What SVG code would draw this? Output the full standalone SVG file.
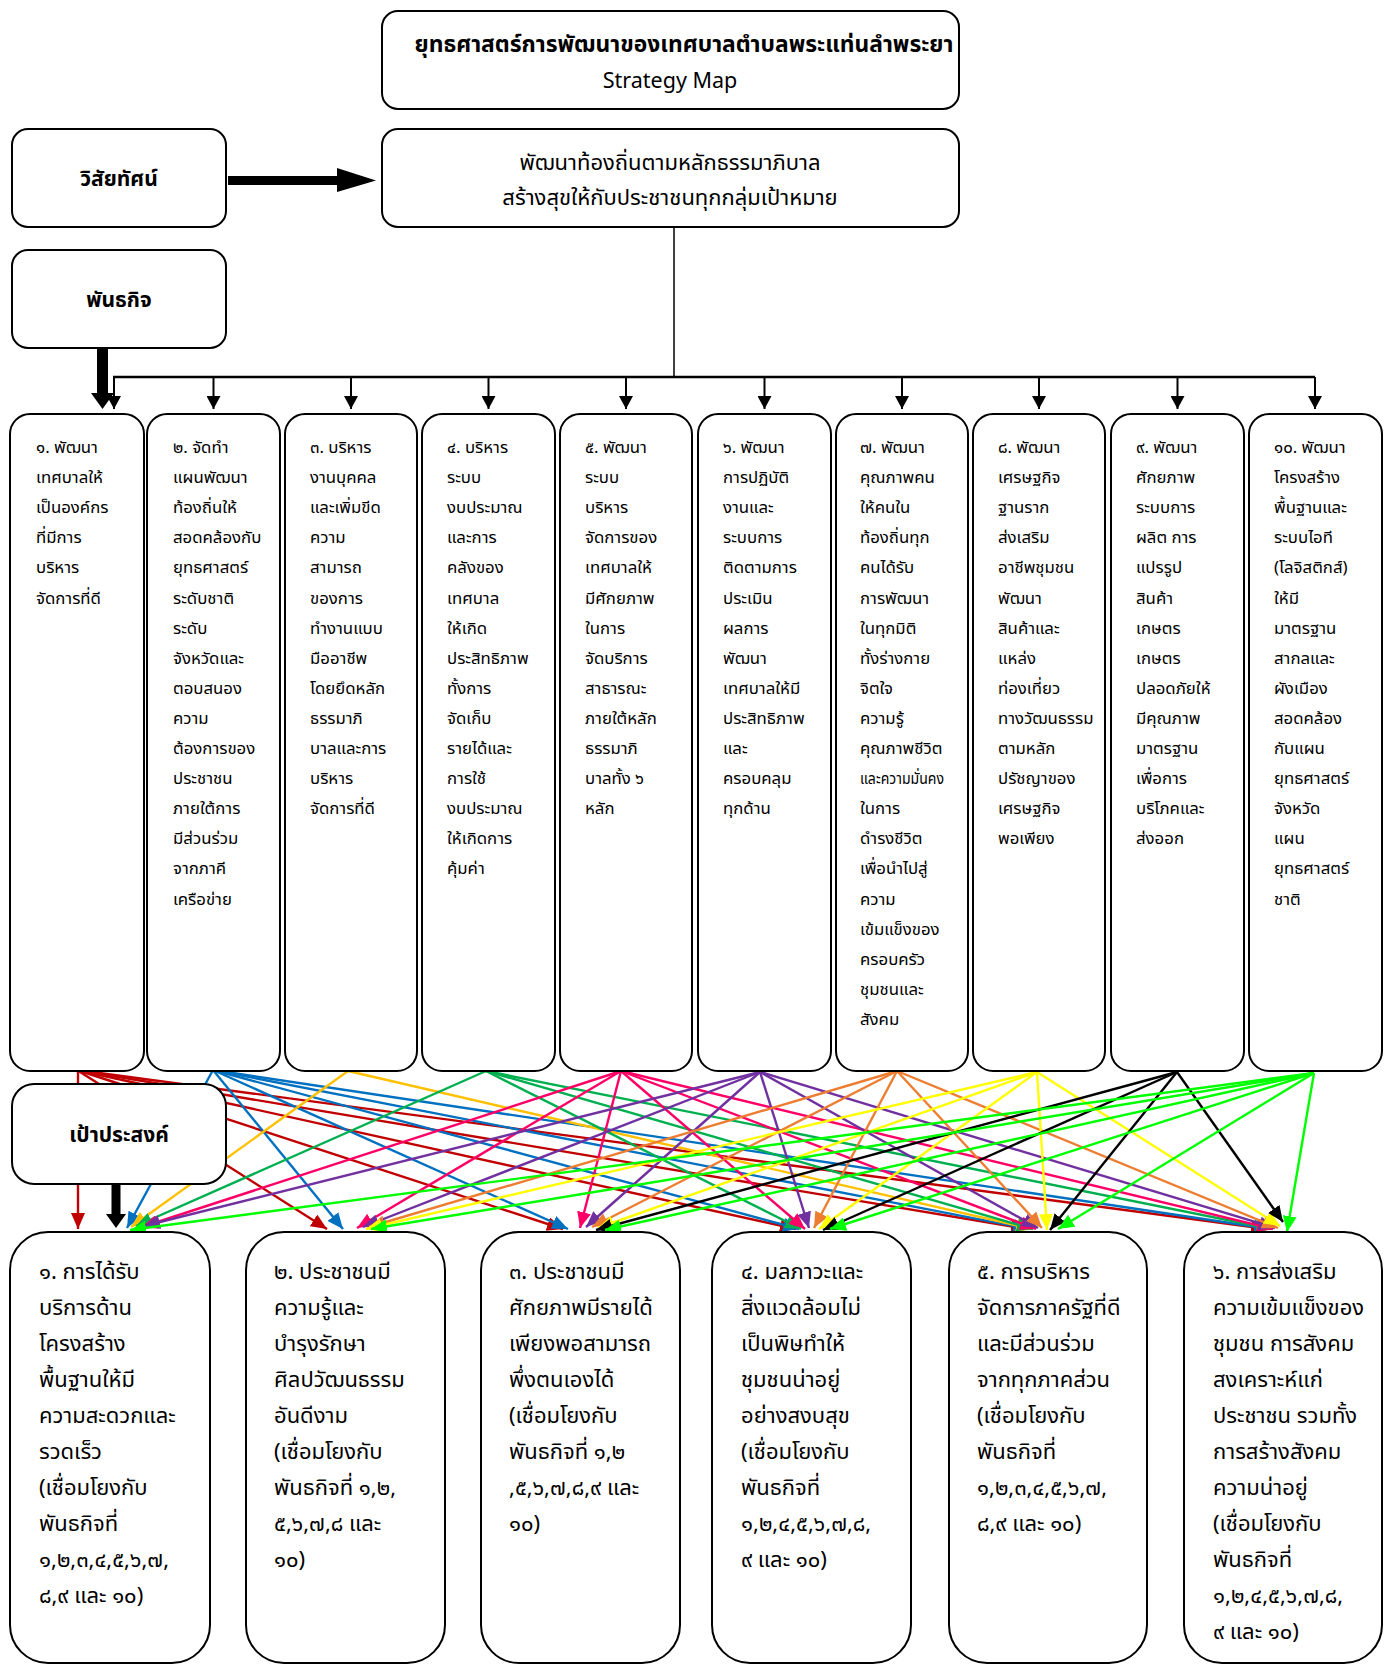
<svg xmlns="http://www.w3.org/2000/svg" width="1384" height="1666" viewBox="0 0 1384 1666">
<style>
.box{fill:#fff;stroke:#000;stroke-width:2}
.t{font-family:"Noto Sans Thai","Noto Sans","DejaVu Sans",sans-serif;fill:#000}
.m{font-size:16.8px}
.g{font-size:22px}
.lbl{font-size:21px;font-weight:bold;text-anchor:middle}
.c line{stroke-width:2.4;fill:none}
</style>
<defs>
<marker id="ak" markerUnits="userSpaceOnUse" markerWidth="13" markerHeight="14" viewBox="0 0 13 14" refX="13" refY="7" orient="auto"><path d="M0,0L13,7L0,14z" fill="#000"/></marker>
<marker id="a1" markerUnits="userSpaceOnUse" markerWidth="16" markerHeight="14" viewBox="0 0 16 14" refX="16" refY="7" orient="auto"><path d="M0,0L16,7L0,14z" fill="#C00000"/></marker>
<marker id="a2" markerUnits="userSpaceOnUse" markerWidth="16" markerHeight="14" viewBox="0 0 16 14" refX="16" refY="7" orient="auto"><path d="M0,0L16,7L0,14z" fill="#0070C0"/></marker>
<marker id="a3" markerUnits="userSpaceOnUse" markerWidth="16" markerHeight="14" viewBox="0 0 16 14" refX="16" refY="7" orient="auto"><path d="M0,0L16,7L0,14z" fill="#FFC000"/></marker>
<marker id="a4" markerUnits="userSpaceOnUse" markerWidth="16" markerHeight="14" viewBox="0 0 16 14" refX="16" refY="7" orient="auto"><path d="M0,0L16,7L0,14z" fill="#00B050"/></marker>
<marker id="a5" markerUnits="userSpaceOnUse" markerWidth="16" markerHeight="14" viewBox="0 0 16 14" refX="16" refY="7" orient="auto"><path d="M0,0L16,7L0,14z" fill="#FF0066"/></marker>
<marker id="a6" markerUnits="userSpaceOnUse" markerWidth="16" markerHeight="14" viewBox="0 0 16 14" refX="16" refY="7" orient="auto"><path d="M0,0L16,7L0,14z" fill="#7030A0"/></marker>
<marker id="a7" markerUnits="userSpaceOnUse" markerWidth="16" markerHeight="14" viewBox="0 0 16 14" refX="16" refY="7" orient="auto"><path d="M0,0L16,7L0,14z" fill="#ED7D31"/></marker>
<marker id="a8" markerUnits="userSpaceOnUse" markerWidth="16" markerHeight="14" viewBox="0 0 16 14" refX="16" refY="7" orient="auto"><path d="M0,0L16,7L0,14z" fill="#FFFF00"/></marker>
<marker id="a9" markerUnits="userSpaceOnUse" markerWidth="16" markerHeight="14" viewBox="0 0 16 14" refX="16" refY="7" orient="auto"><path d="M0,0L16,7L0,14z" fill="#000000"/></marker>
<marker id="a10" markerUnits="userSpaceOnUse" markerWidth="16" markerHeight="14" viewBox="0 0 16 14" refX="16" refY="7" orient="auto"><path d="M0,0L16,7L0,14z" fill="#00FF00"/></marker>
</defs>
<rect width="1384" height="1666" fill="#fff"/>

<g id="connectors">
<polygon points="228,176 337,176 337,168 376,180.5 337,192 337,185 228,185" fill="#000"/>
<line x1="674" y1="227" x2="674" y2="377" stroke="#000" stroke-width="1.5"/>
<line x1="113" y1="377" x2="1315" y2="377" stroke="#000" stroke-width="2.5"/>
<g stroke="#000" stroke-width="2" marker-end="url(#ak)">
<line x1="114" y1="377" x2="114" y2="409"/>
<line x1="213.5" y1="377" x2="213.5" y2="409"/>
<line x1="351" y1="377" x2="351" y2="409"/>
<line x1="488.5" y1="377" x2="488.5" y2="409"/>
<line x1="626" y1="377" x2="626" y2="409"/>
<line x1="764.5" y1="377" x2="764.5" y2="409"/>
<line x1="902" y1="377" x2="902" y2="409"/>
<line x1="1039" y1="377" x2="1039" y2="409"/>
<line x1="1177.5" y1="377" x2="1177.5" y2="409"/>
<line x1="1315" y1="377" x2="1315" y2="409"/>
</g>
<polygon points="97,348 108,348 108,393 114,393 102.5,409 91,393 97,393" fill="#000"/>

<g class="c">
<g stroke="#C00000" marker-end="url(#a1)">
<line x1="78" y1="1070" x2="78" y2="1229"/>
<line x1="77" y1="1070" x2="327" y2="1229"/>
<line x1="77" y1="1070" x2="563" y2="1229"/>
<line x1="77" y1="1070" x2="796" y2="1229"/>
<line x1="77" y1="1070" x2="1027" y2="1229"/>
<line x1="77" y1="1070" x2="1267" y2="1229"/>
</g>
<g stroke="#0070C0" marker-end="url(#a2)">
<line x1="213" y1="1070" x2="127" y2="1228"/>
<line x1="213" y1="1070" x2="343" y2="1229"/>
<line x1="213" y1="1070" x2="568" y2="1229"/>
<line x1="213" y1="1070" x2="799" y2="1229"/>
<line x1="213" y1="1070" x2="1029" y2="1229"/>
<line x1="213" y1="1070" x2="1270" y2="1229"/>
</g>
<g stroke="#FFC000" marker-end="url(#a3)">
<line x1="348" y1="1071" x2="131" y2="1227"/>
<line x1="348" y1="1071" x2="1032" y2="1229"/>
</g>
<g stroke="#00B050" marker-end="url(#a4)">
<line x1="486" y1="1071" x2="136" y2="1226"/>
<line x1="486" y1="1071" x2="801" y2="1229"/>
<line x1="486" y1="1071" x2="1033" y2="1229"/>
<line x1="486" y1="1071" x2="1272" y2="1229"/>
</g>
<g stroke="#FF0066" marker-end="url(#a5)">
<line x1="621" y1="1071" x2="142" y2="1227"/>
<line x1="621" y1="1071" x2="357" y2="1228"/>
<line x1="621" y1="1071" x2="580" y2="1228"/>
<line x1="621" y1="1071" x2="805" y2="1229"/>
<line x1="621" y1="1071" x2="1036" y2="1229"/>
<line x1="621" y1="1071" x2="1273" y2="1229"/>
</g>
<g stroke="#7030A0" marker-end="url(#a6)">
<line x1="760" y1="1072" x2="144" y2="1226"/>
<line x1="760" y1="1072" x2="363" y2="1227"/>
<line x1="760" y1="1072" x2="586" y2="1227"/>
<line x1="760" y1="1072" x2="809" y2="1228"/>
<line x1="760" y1="1072" x2="1038" y2="1228"/>
<line x1="760" y1="1072" x2="1275" y2="1228"/>
</g>
<g stroke="#ED7D31" marker-end="url(#a7)">
<line x1="897" y1="1071" x2="369" y2="1227"/>
<line x1="897" y1="1071" x2="592" y2="1227"/>
<line x1="897" y1="1071" x2="814" y2="1228"/>
<line x1="897" y1="1071" x2="1042" y2="1228"/>
<line x1="897" y1="1071" x2="1278" y2="1228"/>
</g>
<g stroke="#FFFF00" marker-end="url(#a8)">
<line x1="1037" y1="1072" x2="366" y2="1229"/>
<line x1="1037" y1="1072" x2="598" y2="1228"/>
<line x1="1037" y1="1072" x2="819" y2="1229"/>
<line x1="1037" y1="1072" x2="1047" y2="1230"/>
<line x1="1037" y1="1072" x2="1280" y2="1226"/>
</g>
<g stroke="#000000" marker-end="url(#a9)">
<line x1="1177" y1="1072" x2="596" y2="1230"/>
<line x1="1177" y1="1072" x2="823" y2="1230"/>
<line x1="1177" y1="1072" x2="1050" y2="1230"/>
<line x1="1177" y1="1072" x2="1283" y2="1222"/>
</g>
<g stroke="#00FF00" marker-end="url(#a10)">
<line x1="1314" y1="1073" x2="130" y2="1230"/>
<line x1="1314" y1="1073" x2="371" y2="1229"/>
<line x1="1314" y1="1073" x2="605" y2="1230"/>
<line x1="1314" y1="1073" x2="830" y2="1229"/>
<line x1="1314" y1="1073" x2="1058" y2="1229"/>
<line x1="1314" y1="1073" x2="1287" y2="1232"/>
</g>
</g>
<polygon points="111.5,1184 120.5,1184 120.5,1214 126,1214 116,1228 106,1214 111.5,1214" fill="#000"/>
</g>

<g id="title">
<rect class="box" x="382" y="11" width="577" height="98" rx="16"/>
<text class="t" x="684" y="52" font-size="22.8" font-weight="bold" text-anchor="middle">ยุทธศาสตร์การพัฒนาของเทศบาลตำบลพระแท่นลำพระยา</text>
<text class="t" x="670" y="88" font-size="21.5" text-anchor="middle">Strategy Map</text>
</g>
<g id="vision-label">
<rect class="box" x="12" y="129" width="214" height="98" rx="16"/>
<text class="t lbl" x="119" y="186">วิสัยทัศน์</text>
</g>
<g id="vision">
<rect class="box" x="382" y="129" width="577" height="98" rx="16"/>
<text class="t" font-size="22" text-anchor="middle"><tspan x="670" y="170">พัฒนาท้องถิ่นตามหลักธรรมาภิบาล</tspan><tspan x="670" y="205">สร้างสุขให้กับประชาชนทุกกลุ่มเป้าหมาย</tspan></text>
</g>
<g id="mission-label">
<rect class="box" x="12" y="250" width="214" height="98" rx="16"/>
<text class="t lbl" x="119" y="307">พันธกิจ</text>
</g>

<g id="m1"><rect class="box" x="10" y="414" width="134" height="657" rx="20"/>
<text class="t m" y="453"><tspan x="36">๑. พัฒนา</tspan><tspan x="36" dy="30.1">เทศบาลให้</tspan><tspan x="36" dy="30.1">เป็นองค์กร</tspan><tspan x="36" dy="30.1">ที่มีการ</tspan><tspan x="36" dy="30.1">บริหาร</tspan><tspan x="36" dy="30.1">จัดการที่ดี</tspan></text></g>
<g id="m2"><rect class="box" x="147" y="414" width="133" height="657" rx="20"/>
<text class="t m" y="453"><tspan x="173">๒. จัดทำ</tspan><tspan x="173" dy="30.1">แผนพัฒนา</tspan><tspan x="173" dy="30.1">ท้องถิ่นให้</tspan><tspan x="173" dy="30.1">สอดคล้องกับ</tspan><tspan x="173" dy="30.1">ยุทธศาสตร์</tspan><tspan x="173" dy="30.1">ระดับชาติ</tspan><tspan x="173" dy="30.1">ระดับ</tspan><tspan x="173" dy="30.1">จังหวัดและ</tspan><tspan x="173" dy="30.1">ตอบสนอง</tspan><tspan x="173" dy="30.1">ความ</tspan><tspan x="173" dy="30.1">ต้องการของ</tspan><tspan x="173" dy="30.1">ประชาชน</tspan><tspan x="173" dy="30.1">ภายใต้การ</tspan><tspan x="173" dy="30.1">มีส่วนร่วม</tspan><tspan x="173" dy="30.1">จากภาคี</tspan><tspan x="173" dy="30.1">เครือข่าย</tspan></text></g>
<g id="m3"><rect class="box" x="285" y="414" width="132" height="657" rx="20"/>
<text class="t m" y="453"><tspan x="310">๓. บริหาร</tspan><tspan x="310" dy="30.1">งานบุคคล</tspan><tspan x="310" dy="30.1">และเพิ่มขีด</tspan><tspan x="310" dy="30.1">ความ</tspan><tspan x="310" dy="30.1">สามารถ</tspan><tspan x="310" dy="30.1">ของการ</tspan><tspan x="310" dy="30.1">ทำงานแบบ</tspan><tspan x="310" dy="30.1">มืออาชีพ</tspan><tspan x="310" dy="30.1">โดยยึดหลัก</tspan><tspan x="310" dy="30.1">ธรรมาภิ</tspan><tspan x="310" dy="30.1">บาลและการ</tspan><tspan x="310" dy="30.1">บริหาร</tspan><tspan x="310" dy="30.1">จัดการที่ดี</tspan></text></g>
<g id="m4"><rect class="box" x="422" y="414" width="133" height="657" rx="20"/>
<text class="t m" y="453"><tspan x="447">๔. บริหาร</tspan><tspan x="447" dy="30.1">ระบบ</tspan><tspan x="447" dy="30.1">งบประมาณ</tspan><tspan x="447" dy="30.1">และการ</tspan><tspan x="447" dy="30.1">คลังของ</tspan><tspan x="447" dy="30.1">เทศบาล</tspan><tspan x="447" dy="30.1">ให้เกิด</tspan><tspan x="447" dy="30.1">ประสิทธิภาพ</tspan><tspan x="447" dy="30.1">ทั้งการ</tspan><tspan x="447" dy="30.1">จัดเก็บ</tspan><tspan x="447" dy="30.1">รายได้และ</tspan><tspan x="447" dy="30.1">การใช้</tspan><tspan x="447" dy="30.1">งบประมาณ</tspan><tspan x="447" dy="30.1">ให้เกิดการ</tspan><tspan x="447" dy="30.1">คุ้มค่า</tspan></text></g>
<g id="m5"><rect class="box" x="560" y="414" width="132" height="657" rx="20"/>
<text class="t m" y="453"><tspan x="585">๕. พัฒนา</tspan><tspan x="585" dy="30.1">ระบบ</tspan><tspan x="585" dy="30.1">บริหาร</tspan><tspan x="585" dy="30.1">จัดการของ</tspan><tspan x="585" dy="30.1">เทศบาลให้</tspan><tspan x="585" dy="30.1">มีศักยภาพ</tspan><tspan x="585" dy="30.1">ในการ</tspan><tspan x="585" dy="30.1">จัดบริการ</tspan><tspan x="585" dy="30.1">สาธารณะ</tspan><tspan x="585" dy="30.1">ภายใต้หลัก</tspan><tspan x="585" dy="30.1">ธรรมาภิ</tspan><tspan x="585" dy="30.1">บาลทั้ง ๖</tspan><tspan x="585" dy="30.1">หลัก</tspan></text></g>
<g id="m6"><rect class="box" x="698" y="414" width="133" height="657" rx="20"/>
<text class="t m" y="453"><tspan x="723">๖. พัฒนา</tspan><tspan x="723" dy="30.1">การปฏิบัติ</tspan><tspan x="723" dy="30.1">งานและ</tspan><tspan x="723" dy="30.1">ระบบการ</tspan><tspan x="723" dy="30.1">ติดตามการ</tspan><tspan x="723" dy="30.1">ประเมิน</tspan><tspan x="723" dy="30.1">ผลการ</tspan><tspan x="723" dy="30.1">พัฒนา</tspan><tspan x="723" dy="30.1">เทศบาลให้มี</tspan><tspan x="723" dy="30.1">ประสิทธิภาพ</tspan><tspan x="723" dy="30.1">และ</tspan><tspan x="723" dy="30.1">ครอบคลุม</tspan><tspan x="723" dy="30.1">ทุกด้าน</tspan></text></g>
<g id="m7"><rect class="box" x="836" y="414" width="132" height="657" rx="20"/>
<text class="t m" y="453"><tspan x="860">๗. พัฒนา</tspan><tspan x="860" dy="30.1">คุณภาพคน</tspan><tspan x="860" dy="30.1">ให้คนใน</tspan><tspan x="860" dy="30.1">ท้องถิ่นทุก</tspan><tspan x="860" dy="30.1">คนได้รับ</tspan><tspan x="860" dy="30.1">การพัฒนา</tspan><tspan x="860" dy="30.1">ในทุกมิติ</tspan><tspan x="860" dy="30.1">ทั้งร่างกาย</tspan><tspan x="860" dy="30.1">จิตใจ</tspan><tspan x="860" dy="30.1">ความรู้</tspan><tspan x="860" dy="30.1">คุณภาพชีวิต</tspan></text>
<text class="t m" x="860" y="784.1" textLength="84" lengthAdjust="spacingAndGlyphs">และความมั่นคง</text>
<text class="t m" y="814.2"><tspan x="860">ในการ</tspan><tspan x="860" dy="30.1">ดำรงชีวิต</tspan><tspan x="860" dy="30.1">เพื่อนำไปสู่</tspan><tspan x="860" dy="30.1">ความ</tspan><tspan x="860" dy="30.1">เข้มแข็งของ</tspan><tspan x="860" dy="30.1">ครอบครัว</tspan><tspan x="860" dy="30.1">ชุมชนและ</tspan><tspan x="860" dy="30.1">สังคม</tspan></text></g>
<g id="m8"><rect class="box" x="973" y="414" width="132" height="657" rx="20"/>
<text class="t m" y="453"><tspan x="998">๘. พัฒนา</tspan><tspan x="998" dy="30.1">เศรษฐกิจ</tspan><tspan x="998" dy="30.1">ฐานราก</tspan><tspan x="998" dy="30.1">ส่งเสริม</tspan><tspan x="998" dy="30.1">อาชีพชุมชน</tspan><tspan x="998" dy="30.1">พัฒนา</tspan><tspan x="998" dy="30.1">สินค้าและ</tspan><tspan x="998" dy="30.1">แหล่ง</tspan><tspan x="998" dy="30.1">ท่องเที่ยว</tspan><tspan x="998" dy="30.1">ทางวัฒนธรรม</tspan><tspan x="998" dy="30.1">ตามหลัก</tspan><tspan x="998" dy="30.1">ปรัชญาของ</tspan><tspan x="998" dy="30.1">เศรษฐกิจ</tspan><tspan x="998" dy="30.1">พอเพียง</tspan></text></g>
<g id="m9"><rect class="box" x="1111" y="414" width="133" height="657" rx="20"/>
<text class="t m" y="453"><tspan x="1136">๙. พัฒนา</tspan><tspan x="1136" dy="30.1">ศักยภาพ</tspan><tspan x="1136" dy="30.1">ระบบการ</tspan><tspan x="1136" dy="30.1">ผลิต  การ</tspan><tspan x="1136" dy="30.1">แปรรูป</tspan><tspan x="1136" dy="30.1">สินค้า</tspan><tspan x="1136" dy="30.1">เกษตร</tspan><tspan x="1136" dy="30.1">เกษตร</tspan><tspan x="1136" dy="30.1">ปลอดภัยให้</tspan><tspan x="1136" dy="30.1">มีคุณภาพ</tspan><tspan x="1136" dy="30.1">มาตรฐาน</tspan><tspan x="1136" dy="30.1">เพื่อการ</tspan><tspan x="1136" dy="30.1">บริโภคและ</tspan><tspan x="1136" dy="30.1">ส่งออก</tspan></text></g>
<g id="m10"><rect class="box" x="1249" y="414" width="133" height="657" rx="20"/>
<text class="t m" y="453"><tspan x="1274">๑๐. พัฒนา</tspan><tspan x="1274" dy="30.1">โครงสร้าง</tspan><tspan x="1274" dy="30.1">พื้นฐานและ</tspan><tspan x="1274" dy="30.1">ระบบไอที</tspan><tspan x="1274" dy="30.1">(โลจิสติกส์)</tspan><tspan x="1274" dy="30.1">ให้มี</tspan><tspan x="1274" dy="30.1">มาตรฐาน</tspan><tspan x="1274" dy="30.1">สากลและ</tspan><tspan x="1274" dy="30.1">ผังเมือง</tspan><tspan x="1274" dy="30.1">สอดคล้อง</tspan><tspan x="1274" dy="30.1">กับแผน</tspan><tspan x="1274" dy="30.1">ยุทธศาสตร์</tspan><tspan x="1274" dy="30.1">จังหวัด</tspan><tspan x="1274" dy="30.1">แผน</tspan><tspan x="1274" dy="30.1">ยุทธศาสตร์</tspan><tspan x="1274" dy="30.1">ชาติ</tspan></text></g>

<g id="goal-label">
<rect class="box" x="12" y="1084" width="214" height="100" rx="22"/>
<text class="t lbl" x="119" y="1142">เป้าประสงค์</text>
</g>

<g id="g1"><rect class="box" x="10" y="1232" width="200" height="431" rx="38"/>
<text class="t g" y="1279"><tspan x="39">๑. การได้รับ</tspan><tspan x="39" dy="36">บริการด้าน</tspan><tspan x="39" dy="36">โครงสร้าง</tspan><tspan x="39" dy="36">พื้นฐานให้มี</tspan><tspan x="39" dy="36">ความสะดวกและ</tspan><tspan x="39" dy="36">รวดเร็ว</tspan><tspan x="39" dy="36">(เชื่อมโยงกับ</tspan><tspan x="39" dy="36">พันธกิจที่</tspan><tspan x="39" dy="36">๑,๒,๓,๔,๕,๖,๗,</tspan><tspan x="39" dy="36">๘,๙ และ ๑๐)</tspan></text></g>
<g id="g2"><rect class="box" x="246" y="1232" width="199" height="431" rx="38"/>
<text class="t g" y="1279"><tspan x="274">๒. ประชาชนมี</tspan><tspan x="274" dy="36">ความรู้และ</tspan><tspan x="274" dy="36">บำรุงรักษา</tspan><tspan x="274" dy="36">ศิลปวัฒนธรรม</tspan><tspan x="274" dy="36">อันดีงาม</tspan><tspan x="274" dy="36">(เชื่อมโยงกับ</tspan><tspan x="274" dy="36">พันธกิจที่ ๑,๒,</tspan><tspan x="274" dy="36">๕,๖,๗,๘ และ</tspan><tspan x="274" dy="36">๑๐)</tspan></text></g>
<g id="g3"><rect class="box" x="481" y="1232" width="199" height="431" rx="38"/>
<text class="t g" y="1279"><tspan x="509">๓. ประชาชนมี</tspan><tspan x="509" dy="36">ศักยภาพมีรายได้</tspan><tspan x="509" dy="36">เพียงพอสามารถ</tspan><tspan x="509" dy="36">พึ่งตนเองได้</tspan><tspan x="509" dy="36">(เชื่อมโยงกับ</tspan><tspan x="509" dy="36">พันธกิจที่ ๑,๒</tspan><tspan x="509" dy="36">,๕,๖,๗,๘,๙ และ</tspan><tspan x="509" dy="36">๑๐)</tspan></text></g>
<g id="g4"><rect class="box" x="712" y="1232" width="199" height="431" rx="38"/>
<text class="t g" y="1279"><tspan x="741">๔. มลภาวะและ</tspan><tspan x="741" dy="36">สิ่งแวดล้อมไม่</tspan><tspan x="741" dy="36">เป็นพิษทำให้</tspan><tspan x="741" dy="36">ชุมชนน่าอยู่</tspan><tspan x="741" dy="36">อย่างสงบสุข</tspan><tspan x="741" dy="36">(เชื่อมโยงกับ</tspan><tspan x="741" dy="36">พันธกิจที่</tspan><tspan x="741" dy="36">๑,๒,๔,๕,๖,๗,๘,</tspan><tspan x="741" dy="36">๙ และ ๑๐)</tspan></text></g>
<g id="g5"><rect class="box" x="949" y="1232" width="198" height="431" rx="38"/>
<text class="t g" y="1279"><tspan x="977">๕. การบริหาร</tspan><tspan x="977" dy="36">จัดการภาครัฐที่ดี</tspan><tspan x="977" dy="36">และมีส่วนร่วม</tspan><tspan x="977" dy="36">จากทุกภาคส่วน</tspan><tspan x="977" dy="36">(เชื่อมโยงกับ</tspan><tspan x="977" dy="36">พันธกิจที่</tspan><tspan x="977" dy="36">๑,๒,๓,๔,๕,๖,๗,</tspan><tspan x="977" dy="36">๘,๙ และ ๑๐)</tspan></text></g>
<g id="g6"><rect class="box" x="1184" y="1232" width="198" height="431" rx="38"/>
<text class="t g" y="1279"><tspan x="1213">๖. การส่งเสริม</tspan><tspan x="1213" dy="36">ความเข้มแข็งของ</tspan><tspan x="1213" dy="36">ชุมชน การสังคม</tspan><tspan x="1213" dy="36">สงเคราะห์แก่</tspan><tspan x="1213" dy="36">ประชาชน รวมทั้ง</tspan><tspan x="1213" dy="36">การสร้างสังคม</tspan><tspan x="1213" dy="36">ความน่าอยู่</tspan><tspan x="1213" dy="36">(เชื่อมโยงกับ</tspan><tspan x="1213" dy="36">พันธกิจที่</tspan><tspan x="1213" dy="36">๑,๒,๔,๕,๖,๗,๘,</tspan><tspan x="1213" dy="36">๙ และ ๑๐)</tspan></text></g>
</svg>
